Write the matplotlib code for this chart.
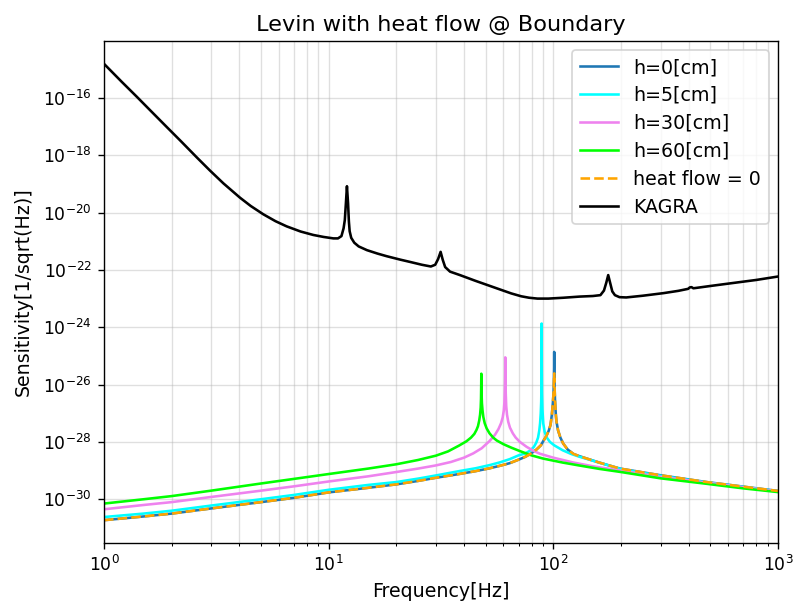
import matplotlib
matplotlib.use("Agg")
import matplotlib.pyplot as plt
import numpy as np

# ---- data ----
# frequencies [Hz] and log10 of sensitivity [1/sqrt(Hz)]

f_h0 = [1, 1.5, 2, 3, 5, 7, 10, 15, 20, 25, 30, 38, 45, 52, 58, 64, 70, 75, 79, 84,
        88, 90.2, 93, 95.5, 97.2, 98.5, 99.5, 100.2, 100.6, 100.8, 100.9, 101.0,
        101.3, 101.8, 102.6, 103.3, 105, 107.5, 110.7, 116, 123, 131, 160, 198, 298,
        481, 700, 1000]
lg_h0 = [-30.73, -30.60, -30.50, -30.32, -30.10, -29.95, -29.76, -29.60, -29.48, -29.36,
         -29.25, -29.12, -29.02, -28.92, -28.83, -28.74, -28.62, -28.52, -28.42, -28.27,
         -28.12, -27.97, -27.80, -27.60, -27.40, -27.05, -26.65, -26.30, -25.80, -25.40,
         -24.86, -25.50, -26.10, -26.60, -27.05, -27.30, -27.60, -27.85, -28.06, -28.27,
         -28.42, -28.50, -28.72, -28.93, -29.16, -29.40, -29.56, -29.71]

f_hf0 = [1, 1.5, 2, 3, 5, 7, 10, 15, 20, 25, 30, 38, 45, 52, 58, 64, 70, 75, 79, 84,
         88, 90.2, 93, 95.5, 97.2, 98.5, 99.5, 100.2, 100.6, 100.9,
         101.3, 101.8, 102.6, 103.3, 105, 107.5, 110.7, 116, 123, 131, 160, 198, 298,
         481, 700, 1000]
lg_hf0 = [-30.73, -30.60, -30.50, -30.32, -30.10, -29.95, -29.76, -29.60, -29.48, -29.36,
          -29.25, -29.12, -29.02, -28.92, -28.83, -28.74, -28.62, -28.52, -28.42, -28.27,
          -28.12, -27.97, -27.80, -27.60, -27.40, -27.05, -26.65, -26.30, -25.90, -25.61,
          -26.10, -26.60, -27.05, -27.30, -27.60, -27.85, -28.06, -28.27,
          -28.42, -28.50, -28.72, -28.93, -29.16, -29.40, -29.56, -29.71]

f_h5 = [1, 1.5, 2, 3, 5, 7, 10, 15, 20, 25, 30, 38, 45, 52, 58, 64, 70, 75, 79, 82,
        84, 85.5, 86.6, 87.3, 87.9, 88.3, 88.55, 88.65, 88.7, 88.8, 89.0, 89.4, 90.2,
        91.5, 93.5, 96.6, 101, 110, 120, 131, 160, 200, 300, 480, 700, 1000]
lg_h5 = [-30.62, -30.50, -30.40, -30.22, -30.00, -29.85, -29.67, -29.50, -29.40, -29.28,
         -29.17, -29.02, -28.92, -28.81, -28.71, -28.60, -28.47, -28.40, -28.30, -28.17,
         -28.02, -27.85, -27.60, -27.35, -27.00, -26.60, -26.00, -25.00, -23.87, -25.30,
         -26.30, -26.85, -27.36, -27.65, -27.85, -28.00, -28.12, -28.29, -28.42, -28.52,
         -28.72, -28.95, -29.18, -29.41, -29.57, -29.72]

f_h30 = [1, 1.5, 2, 3, 5, 7, 10, 15, 20, 25, 30, 35, 40, 44, 48, 52, 55, 57, 58.5,
         59.5, 60.2, 60.6, 60.9, 61.05, 61.1, 61.2, 61.4, 61.7, 62.2, 63, 64.1, 66, 68,
         71, 76, 82, 87, 100, 123, 150, 200, 300, 480, 700, 1000]
lg_h30 = [-30.35, -30.20, -30.10, -29.92, -29.70, -29.55, -29.38, -29.20, -29.05, -28.93,
          -28.82, -28.70, -28.55, -28.40, -28.22, -27.97, -27.75, -27.55, -27.35, -27.15,
          -26.90, -26.60, -26.10, -25.60, -25.05, -25.70, -26.30, -26.75, -27.05, -27.30,
          -27.50, -27.70, -27.85, -28.00, -28.17, -28.32, -28.41, -28.55, -28.72, -28.85,
          -29.00, -29.22, -29.42, -29.58, -29.73]

f_h60 = [1, 1.5, 2, 3, 5, 7, 10, 15, 20, 25, 30, 34, 38, 41, 43, 44.5, 45.5, 46.2,
         46.8, 47.2, 47.5, 47.65, 47.75, 47.8, 47.85, 47.95, 48.1, 48.4, 48.8, 49.5,
         50.5, 52, 54, 56, 60, 65, 71, 80, 90, 110, 130, 160, 200, 300, 480, 700, 1000]
lg_h60 = [-30.15, -30.00, -29.89, -29.70, -29.45, -29.29, -29.12, -28.93, -28.78, -28.63,
          -28.48, -28.33, -28.13, -27.98, -27.85, -27.72, -27.58, -27.45, -27.25, -27.05,
          -26.80, -26.50, -26.00, -25.62, -25.95, -26.35, -26.65, -26.90, -27.13, -27.35,
          -27.53, -27.70, -27.85, -27.95, -28.08, -28.20, -28.32, -28.47, -28.58, -28.72,
          -28.82, -28.94, -29.05, -29.27, -29.46, -29.62, -29.75]

f_kagra = [1, 1.2, 1.4, 1.6, 1.9, 2.2, 2.6, 2.96, 3.4, 4.03, 4.5, 5.12, 5.8, 6.5, 7.5,
           8.54, 9.5, 10.5, 11.0, 11.4, 11.65, 11.8, 11.93, 12.06, 12.2, 12.3, 12.4,
           12.6, 13.0, 13.6, 14.8, 16.5, 18.1, 20.8, 23.0, 26, 28.5, 29.8, 30.7, 31.5,
           32.2, 33.0, 34.7, 38.4, 45, 55.9, 65, 72, 78, 85, 95, 111, 131, 150, 162, 168,
           172, 175.5, 179, 183, 188, 197, 211, 250, 309, 360, 398, 405, 412, 420, 430,
           500, 611, 800, 1000]
lg_kagra = [-14.81, -15.44, -15.96, -16.42, -17.01, -17.51, -18.09, -18.53, -18.98, -19.48,
            -19.77, -20.06, -20.30, -20.48, -20.66, -20.78, -20.85, -20.90, -20.90, -20.82,
            -20.55, -20.26, -19.68, -19.08, -19.68, -20.30, -20.65, -20.88, -21.05, -21.18,
            -21.31, -21.43, -21.52, -21.64, -21.72, -21.82, -21.88, -21.82, -21.62, -21.37,
            -21.65, -21.90, -22.06, -22.18, -22.38, -22.64, -22.82, -22.92, -22.97, -23.00,
            -23.00, -22.97, -22.93, -22.91, -22.88, -22.72, -22.45, -22.18, -22.45, -22.75,
            -22.88, -22.95, -22.96, -22.90, -22.81, -22.73, -22.66, -22.61, -22.60, -22.64,
            -22.63, -22.56, -22.47, -22.35, -22.23]

labels = ["h=0[cm]", "h=5[cm]", "h=30[cm]", "h=60[cm]", "heat flow = 0", "KAGRA"]

fig = plt.figure(figsize=(794 / 124, 603 / 124), dpi=124)
ax = fig.add_axes([104 / 794, 1 - 543 / 603, (778 - 104) / 794, (543 - 41) / 603])

ax.loglog(f_h0, 10.0 ** np.array(lg_h0), color="C0", label=labels[0])
ax.loglog(f_h5, 10.0 ** np.array(lg_h5), color="cyan", label=labels[1])
ax.loglog(f_h30, 10.0 ** np.array(lg_h30), color="violet", label=labels[2])
ax.loglog(f_h60, 10.0 ** np.array(lg_h60), color="lime", label=labels[3])
ax.loglog(f_hf0, 10.0 ** np.array(lg_hf0), color="orange", linestyle="--", label=labels[4])
ax.loglog(f_kagra, 10.0 ** np.array(lg_kagra), color="black", label=labels[5])

ax.set_xlim(1, 1000)
ax.grid(which="both", alpha=0.4)
ax.set_title("Levin with heat flow @ Boundary", fontsize=13)
ax.set_xlabel("Frequency[Hz]", fontsize=11)
ax.set_ylabel("Sensitivity[1/sqrt(Hz)]", fontsize=11, labelpad=6)
ax.legend(loc="upper right", fontsize=11, labelspacing=0.47)

fig.savefig("out.png", dpi=124)
